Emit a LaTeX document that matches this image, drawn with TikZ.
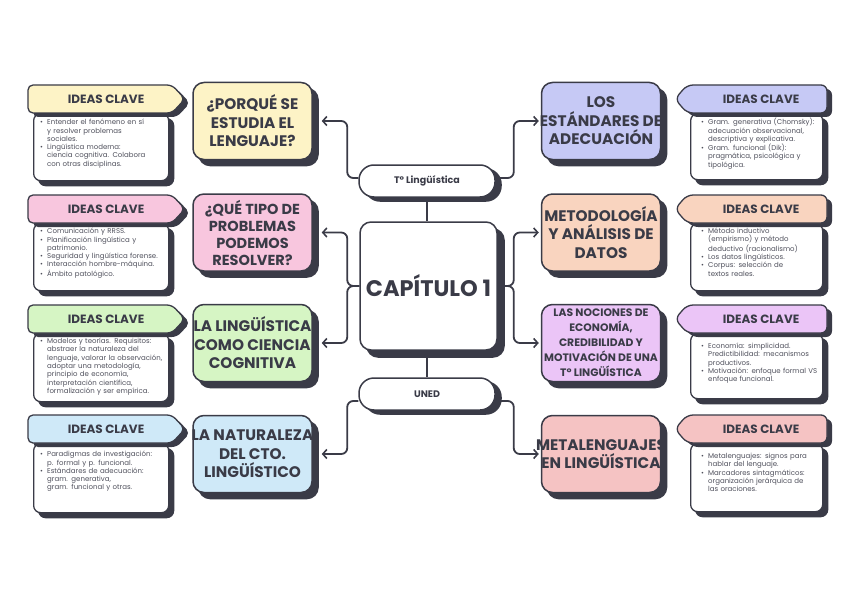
\documentclass[tikz,border=0pt]{standalone}
\usepackage{fontspec}
\setmainfont{Poppins}
\usetikzlibrary{arrows.meta}
\definecolor{ink}{HTML}{3A3B47}
\definecolor{txt}{HTML}{4F505C}
\definecolor{cyel}{HTML}{FDF3C6}
\definecolor{cpink}{HTML}{F8C6DE}
\definecolor{cgreen}{HTML}{D6F5C4}
\definecolor{cblue}{HTML}{CFE9F8}
\definecolor{clav}{HTML}{C6C9F5}
\definecolor{cpeach}{HTML}{F9D4BF}
\definecolor{clilac}{HTML}{EBC5F7}
\definecolor{csalm}{HTML}{F5C3C3}
\pgfdeclarelayer{bg}
\pgfsetlayers{bg,main}
\newcommand\bul[1]{\hangindent=7pt\hangafter=1\noindent\makebox[7pt][l]{•}#1\par}
\newcommand\lhead[3]{%
  \fill[ink, rounded corners=5pt] (33,#1+4) -- (177,#1+4) -- (190,#1+18) -- (177,#1+32) -- (33,#1+32) -- cycle;
  \draw[ink, line width=1.3pt, fill=#2, rounded corners=5pt] (28,#1) -- (172,#1) -- (185,#1+14) -- (172,#1+28) -- (28,#1+28) -- cycle;
  \node[headtext] (#3) at (106,#1+14) {IDEAS CLAVE};}
\newcommand\rhead[3]{%
  \fill[ink, rounded corners=6pt] (832,#1+4) -- (692,#1+4) -- (680,#1+18) -- (692,#1+32) -- (832,#1+32) -- cycle;
  \draw[ink, line width=1.3pt, fill=#2, rounded corners=6pt] (827,#1) -- (687,#1) -- (675,#1+14) -- (687,#1+28) -- (827,#1+28) -- cycle;
  \node[headtext] (#3) at (761,#1+14) {IDEAS CLAVE};}
\begin{document}
\begin{tikzpicture}[x=1pt,y=-1pt,
  shad/.style={preaction={fill=ink, draw=ink, transform canvas={xshift=#1, yshift=-#1}}},
  topic/.style={draw=ink, line width=1.5pt, rounded corners=11pt, minimum width=119pt,
    minimum height=77pt, inner sep=0pt, fill=#1, shad=6pt},
  ttext/.style={font=\bfseries\fontsize{15.3}{18.5}\selectfont, text=ink, align=center, inner sep=0pt},
  pill/.style={draw=ink, line width=1.5pt, rounded corners=15pt, minimum width=136pt,
    minimum height=32pt, inner sep=0pt, fill=white, text=ink,
    font=\bfseries\fontsize{9.5}{11}\selectfont,
    preaction={fill=ink, draw=ink, transform canvas={xshift=6pt, yshift=-4pt}}},
  body/.style={draw=ink, line width=1.3pt, fill=white, rounded corners=7pt, anchor=north west,
    minimum width=135pt, inner sep=0pt, shad=5pt},
  btext/.style={anchor=north west, inner sep=0pt, text width=134pt, align=left, text=txt,
    font=\fontsize{7}{8.3}\selectfont},
  headtext/.style={font=\bfseries\fontsize{12}{13}\selectfont, text=ink, inner sep=0pt},
  conn/.style={draw=ink, line width=1.8pt, rounded corners=6pt},
  arr/.style={conn, -{Straight Barb[length=4pt,width=9pt,line width=1.6pt]}}]
\useasboundingbox (0,0) rectangle (848,599);

% centre
\node[draw=ink, line width=1.5pt, rounded corners=11pt, minimum width=137pt, minimum height=128pt,
  fill=white, shad=7pt, text=ink, font=\bfseries\fontsize{22.5}{26}\selectfont] (cap) at (428.5,286) {CAPÍTULO 1};
\node[pill] (tl) at (427,181) {T° Lingüística};
\node[pill] (un) at (427,394) {UNED};

% topic boxes
\node[topic=cyel, label={[ttext]center:{¿PORQUÉ SE\\ESTUDIA EL\\LENGUAJE?}}] (q1) at (252.5,121) {};
\node[topic=cpink, label={[ttext, font=\bfseries\fontsize{14.5}{17}\selectfont]center:{¿QUÉ TIPO DE\\PROBLEMAS\\PODEMOS\\RESOLVER?}}] (q2) at (252.5,232.5) {};
\node[topic=cgreen, label={[ttext]center:{LA LINGÜÍSTICA\\COMO CIENCIA\\COGNITIVA}}] (q3) at (252.5,343) {};
\node[topic=cblue, label={[ttext]center:{LA NATURALEZA\\DEL CTO.\\LINGÜÍSTICO}}] (q4) at (252.5,454) {};
\node[topic=clav, label={[ttext]center:{LOS\\ESTÁNDARES DE\\ADECUACIÓN}}] (r1) at (601,121) {};
\node[topic=cpeach, label={[ttext]center:{METODOLOGÍA\\Y ANÁLISIS DE\\DATOS}}] (r2) at (601,232.5) {};
\node[topic=clilac, label={[ttext, font=\bfseries\fontsize{10.8}{15}\selectfont]center:{LAS NOCIONES DE\\ECONOMÍA,\\CREDIBILIDAD Y\\MOTIVACIÓN DE UNA\\T° LINGÜÍSTICA}}] (r3) at (601,343) {};
\node[topic=csalm, label={[ttext]center:{METALENGUAJES\\EN LINGÜÍSTICA}}] (r4) at (601,454) {};

% connectors
\begin{pgfonlayer}{bg}
\draw[conn] (tl.south) -- (tl.south |- cap.north);
\draw[conn] (cap.south -| un.north) -- (un.north);
\draw[arr] ([yshift=3pt]tl.west) -- ++(-11,0) |- ([xshift=9pt]q1.east);
\draw[arr] ([yshift=3pt]tl.east) -- ++(18,0) |- ([xshift=-2pt]r1.west);
\draw[arr] (cap.west) -- ++(-12,0) |- ([xshift=9pt]q2.east);
\draw[arr] (cap.west) -- ++(-12,0) |- ([xshift=9pt]q3.east);
\draw[arr] (cap.east) -- ++(16,0) |- ([xshift=-2pt]r2.west);
\draw[arr] (cap.east) -- ++(16,0) |- ([xshift=-2pt]r3.west);
\draw[arr] ([yshift=-7pt]un.west) -- ++(-11,0) |- ([xshift=9pt]q4.east);
\draw[arr] ([yshift=-7pt]un.east) -- ++(18,0) |- ([xshift=-2pt]r4.west);
\end{pgfonlayer}

% left ideas
\node[body, minimum height=67pt] (lb1) at (33,113) {};
\lhead{85}{cyel}{lh1}
\node[btext] (lt1) at (40,119) {\bul{Entender el fenómeno en sí\newline y resolver problemas\newline sociales.}\bul{Lingüística moderna:\newline ciencia cognitiva. Colabora\newline con otras disciplinas.}};
\node[body, minimum height=67pt] (lb2) at (33,223) {};
\lhead{195}{cpink}{lh2}
\node[btext] (lt2) at (40,228) {\bul{Comunicación y RRSS.}\bul{Planificación lingüística y\newline patrimonio.}\bul{Seguridad y lingüística forense.}\bul{Interacción hombre-máquina.}\bul{Ámbito patológico.}};
\node[body, minimum height=68pt] (lb3) at (33,333) {};
\lhead{305}{cgreen}{lh3}
\node[btext] (lt3) at (40,338) {\bul{Modelos y teorías. Requisitos:\newline abstraer la naturaleza del\newline lenguaje, valorar la observación,\newline adoptar una metodología,\newline principio de economía,\newline interpretación científica,\newline formalización y ser empírica.}};
\node[body, minimum height=69pt] (lb4) at (33,443) {};
\lhead{415}{cblue}{lh4}
\node[btext] (lt4) at (40,451) {\bul{Paradigmas de investigación:\newline p. formal y p. funcional.}\bul{Estándares de adecuación:\newline gram. generativa,\newline gram. funcional y otras.}};

% right ideas
\node[body, minimum height=66pt, minimum width=132pt] (rb1) at (690,113) {};
\rhead{85}{clav}{rh1}
\node[btext] (rt1) at (701,118) {\bul{Gram. generativa (Chomsky):\newline adecuación observacional,\newline descriptiva y explicativa.}\bul{Gram. funcional (Dik):\newline pragmática, psicológica y\newline tipológica.}};
\node[body, minimum height=67pt, minimum width=132pt] (rb2) at (690,223) {};
\rhead{195}{cpeach}{rh2}
\node[btext] (rt2) at (701,228) {\bul{Método inductivo\newline (empirismo) y método\newline deductivo (racionalismo)}\bul{Los datos lingüísticos.}\bul{Corpus: selección de\newline textos reales.}};
\node[body, minimum height=65pt, minimum width=132pt] (rb3) at (690,333) {};
\rhead{305}{clilac}{rh3}
\node[btext] (rt3) at (701,343) {\bul{Economía: simplicidad.\newline Predictibilidad: mecanismos\newline productivos.}\bul{Motivación: enfoque formal VS\newline enfoque funcional.}};
\node[body, minimum height=68pt, minimum width=132pt] (rb4) at (690,443) {};
\rhead{415}{csalm}{rh4}
\node[btext] (rt4) at (701,453) {\bul{Metalenguajes: signos para\newline hablar del lenguaje.}\bul{Marcadores sintagmáticos:\newline organización jerárquica de\newline las oraciones.}};
\end{tikzpicture}
\end{document}
